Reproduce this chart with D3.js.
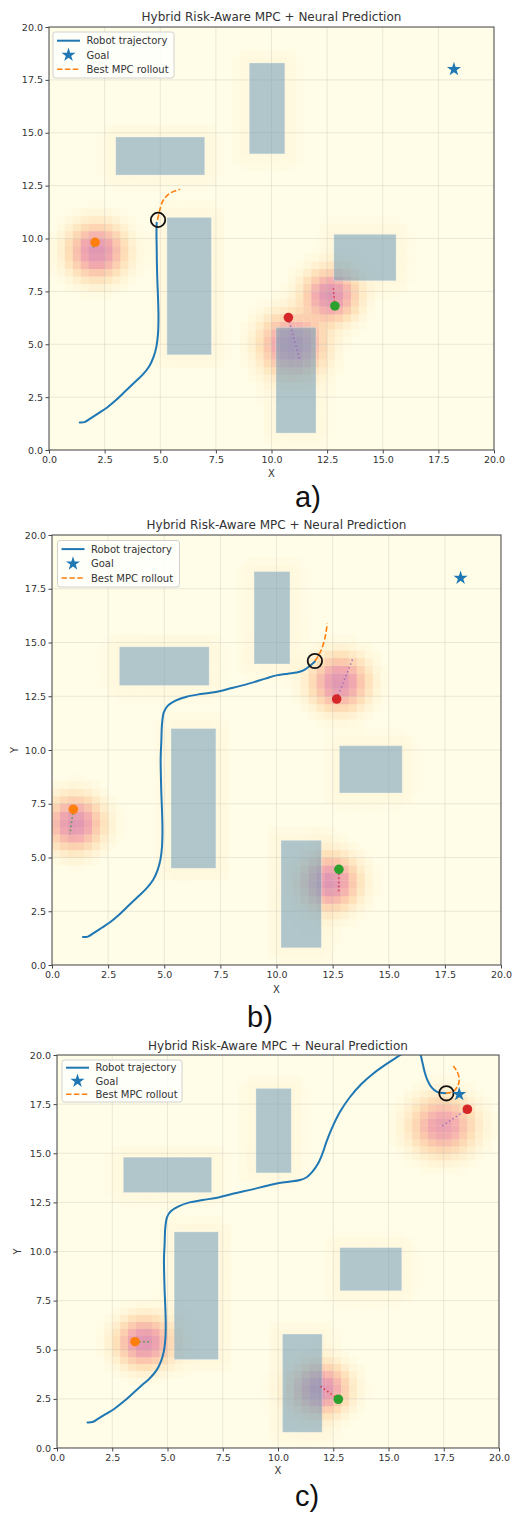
<!DOCTYPE html>
<html>
<head>
<meta charset="utf-8">
<script src="https://cdn.jsdelivr.net/npm/d3@7"></script>
<style>
  body { margin: 0; background: #fff; }
  svg { display: block; }
  text { font-family: "DejaVu Sans", sans-serif; fill: #333; }
</style>
</head>
<body>
<svg id="fig" width="512" height="1513"></svg>
<script>
// ---- data ----
const tickValues = [0, 2.5, 5, 7.5, 10, 12.5, 15, 17.5, 20];
const titleText = "Hybrid Risk-Aware MPC + Neural Prediction";
const legendLabels = ["Robot trajectory", "Goal", "Best MPC rollout"];

// static obstacles: [x0, y0, x1, y1]
const obstacles = [
  [3.0, 13.0, 7.0, 14.8],
  [9.0, 14.0, 10.6, 18.3],
  [5.3, 4.5, 7.3, 11.0],
  [12.8, 8.0, 15.6, 10.2],
  [10.2, 0.8, 12.0, 5.8]
];
const goal = [18.2, 18.0];

// robot path, shared first part and later extensions
const pathStart = [[1.38,1.3],[1.6,1.32],[1.85,1.48],[2.2,1.72],[2.6,2.0],[3.0,2.35],[3.45,2.8],
  [3.85,3.2],[4.2,3.55],[4.5,3.95],[4.7,4.4],[4.83,4.9],[4.9,5.5],[4.92,6.3],[4.9,7.2],[4.87,8.0],
  [4.85,8.8],[4.84,9.6]];
const trajA = pathStart.concat([[4.83,10.2],[4.84,10.75]]);
const trajB = pathStart.concat([[4.87,10.4],[4.9,11.2],[4.98,11.75],[5.15,12.05],[5.5,12.3],[6.0,12.48],
  [6.6,12.6],[7.3,12.7],[8.0,12.88],[8.8,13.1],[9.5,13.32],[10.0,13.47],[10.5,13.55],[10.9,13.6],
  [11.2,13.7],[11.45,13.88],[11.71,14.12]]);
const trajC = pathStart.concat([[4.87,10.4],[4.9,11.2],[4.98,11.75],[5.15,12.05],[5.5,12.3],[6.0,12.5],
  [6.6,12.62],[7.3,12.75],[8.0,12.95],[8.8,13.15],[9.5,13.35],[10.0,13.47],[10.5,13.55],[11.0,13.64],
  [11.3,13.78],[11.55,14.05],[11.8,14.45],[12.0,14.95],[12.2,15.6],[12.45,16.3],[12.8,17.1],
  [13.25,17.85],[13.75,18.5],[14.3,19.05],[14.85,19.5],[15.4,19.9],[15.9,20.25],[16.2,20.35],
  [16.4,20.15],[16.52,19.7],[16.62,19.2],[16.75,18.75],[16.95,18.35],[17.2,18.12],[17.6,18.05]]);

const rolloutA = [[4.88,10.88],[4.98,11.35],[5.14,11.82],[5.44,12.14],[5.89,12.33]];
const rolloutB = [[11.71,14.14],[11.9,14.45],[12.05,14.8],[12.2,15.43],[12.26,15.89]];
const rolloutC = [[17.6,18.05],[17.93,18.14],[18.12,18.4],[18.2,18.73],[18.11,19.15],[17.93,19.44]];

const robotA = [4.9, 10.88];
const robotB = [11.71, 14.14];
const robotC = [17.62, 18.05];

// moving agents: orange, green, red
const agentColors = ["#ff7f0e", "#2ca02c", "#d62728"];
const predColors = ["#2ca02c", "#d62728", "#9467bd"];
const agentsA = [[2.07,9.82],[12.85,6.81],[10.76,6.26]];
const agentsB = [[0.95,7.24],[12.78,4.45],[12.68,12.37]];
const agentsC = [[3.53,5.41],[12.73,2.48],[18.57,17.24]];
const predEndA = [[1.96,9.5],[12.78,7.65],[11.25,4.3]];
const predEndB = [[0.8,6.09],[12.77,3.41],[13.39,14.22]];
const predEndC = [[4.28,5.41],[11.9,3.16],[17.33,16.32]];
// risk blobs: [cx, cy, sigma, peak]
const blobsA = [[2.15,9.4,0.74,1],[12.65,7.3,0.7,1],[10.95,5.0,0.82,0.95]];
const blobsB = [[1.0,6.6,0.72,1],[12.4,3.85,0.72,1],[12.8,13.15,0.72,1]];
const blobsC = [[3.95,5.4,0.72,1],[11.95,3.0,0.72,1],[17.45,16.4,0.85,0.8]];

// ---- layout ----
const panels = [
  {left:49, top:27, w:445, h:423, titleY:21, xlabY:477, ylabX:null, sub:"a)", subX:308, subY:507,
   leg:{x:53, y:32, w:121, h:46, rows:[8.7,23,37.3]},
   traj:trajA, roll:rolloutA, robot:robotA, agents:agentsA, preds:predEndA, blobs:blobsA},
  {left:52, top:535, w:449, h:430, titleY:529, xlabY:993, ylabX:14, sub:"b)", subX:260, subY:1027,
   leg:{x:57.5, y:540.5, w:122, h:46.5, rows:[8.6,23.2,37.5]},
   traj:trajB, roll:rolloutB, robot:robotB, agents:agentsB, preds:predEndB, blobs:blobsB},
  {left:57, top:1055, w:442, h:393, titleY:1050, xlabY:1474, ylabX:17, sub:"c)", subX:307, subY:1506,
   leg:{x:62, y:1060, w:120, h:42, rows:[7.7,21,34.3]},
   traj:trajC, roll:rolloutC, robot:robotC, agents:agentsC, preds:predEndC, blobs:blobsC}
];

const svg = d3.select("#fig");
const nCells = 56;
const cell = 20 / nCells;
const heatColor = d3.scaleLinear()
  .domain([0, 0.06, 0.2, 0.4, 0.65, 1])
  .range(["#fffde7", "#fff4d6", "#fee1b9", "#fbc8ad", "#f3aaae", "#df96b3"])
  .clamp(true);

function rectDist(px, py, o) {
  const dx = Math.max(o[0] - px, 0, px - o[2]);
  const dy = Math.max(o[1] - py, 0, py - o[3]);
  return Math.sqrt(dx * dx + dy * dy);
}

panels.forEach((p, pi) => {
  const x = d3.scaleLinear().domain([0, 20]).range([0, p.w]);
  const y = d3.scaleLinear().domain([0, 20]).range([p.h, 0]);
  const g = svg.append("g").attr("transform", "translate(" + p.left + "," + p.top + ")");

  const clipId = "clip" + pi;
  g.append("clipPath").attr("id", clipId)
    .append("rect").attr("width", p.w).attr("height", p.h);

  const plot = g.append("g").attr("clip-path", "url(#" + clipId + ")");
  plot.append("rect").attr("width", p.w).attr("height", p.h).attr("fill", "#fffde7");

  // risk map cells
  const cells = [];
  for (let i = 0; i < nCells; i++) {
    for (let j = 0; j < nCells; j++) {
      const cx = (i + 0.5) * cell, cy = (j + 0.5) * cell;
      let v = 0;
      p.blobs.forEach(b => {
        const d2 = (cx - b[0]) ** 2 + (cy - b[1]) ** 2;
        v += b[3] * Math.exp(-d2 / (2 * b[2] * b[2]));
      });
      obstacles.forEach(o => {
        const d = rectDist(cx, cy, o);
        v += 0.035 * Math.exp(-d * d / (2 * 0.45 * 0.45));
      });
      if (v > 0.01) cells.push({i, j, v});
    }
  }
  plot.append("g").selectAll("rect").data(cells).enter().append("rect")
    .attr("x", d => x(d.i * cell))
    .attr("y", d => y((d.j + 1) * cell))
    .attr("width", x(cell) - x(0) + 0.3)
    .attr("height", y(0) - y(cell) + 0.3)
    .attr("fill", d => heatColor(d.v));

  // grid
  const grid = plot.append("g").attr("stroke", "#a8a8a0").attr("stroke-opacity", 0.28).attr("stroke-width", 0.9);
  grid.selectAll(".gx").data(tickValues).enter().append("line")
    .attr("x1", d => x(d)).attr("x2", d => x(d)).attr("y1", 0).attr("y2", p.h);
  grid.selectAll(".gy").data(tickValues).enter().append("line")
    .attr("y1", d => y(d)).attr("y2", d => y(d)).attr("x1", 0).attr("x2", p.w);

  // obstacles
  plot.append("g").selectAll("rect").data(obstacles).enter().append("rect")
    .attr("x", d => x(d[0])).attr("y", d => y(d[3]))
    .attr("width", d => x(d[2]) - x(d[0]))
    .attr("height", d => y(d[1]) - y(d[3]))
    .attr("fill", "#6f9db9").attr("fill-opacity", 0.55)
    .attr("stroke", "#ffffff").attr("stroke-opacity", 0.35).attr("stroke-width", 0.8);

  const line = d3.line().x(d => x(d[0])).y(d => y(d[1]));
  const smooth = d3.line().x(d => x(d[0])).y(d => y(d[1])).curve(d3.curveCatmullRom.alpha(0.5));

  // predicted agent paths
  p.agents.forEach((a, k) => {
    plot.append("path").datum([a, p.preds[k]]).attr("d", line)
      .attr("fill", "none").attr("stroke", predColors[k]).attr("stroke-width", 1.5)
      .attr("stroke-dasharray", "1.5,2.6").attr("stroke-opacity", 0.85);
  });

  // robot trajectory
  plot.append("path").datum(p.traj).attr("d", smooth)
    .attr("fill", "none").attr("stroke", "#1f77b4").attr("stroke-width", 2)
    .attr("stroke-linecap", "round");

  // best rollout
  plot.append("path").datum(p.roll).attr("d", smooth)
    .attr("fill", "none").attr("stroke", "#ff7f0e").attr("stroke-width", 1.6)
    .attr("stroke-dasharray", "5.5,2.4");

  // robot
  plot.append("circle").attr("cx", x(p.robot[0])).attr("cy", y(p.robot[1])).attr("r", 7.2)
    .attr("fill", "none").attr("stroke", "#111").attr("stroke-width", 1.8);

  // agents
  plot.append("g").selectAll("circle").data(p.agents).enter().append("circle")
    .attr("cx", d => x(d[0])).attr("cy", d => y(d[1])).attr("r", 4.8)
    .attr("fill", (d, k) => agentColors[k]);

  // goal
  plot.append("path").attr("d", d3.symbol().type(d3.symbolStar).size(62)())
    .attr("transform", "translate(" + x(goal[0]) + "," + y(goal[1]) + ")")
    .attr("fill", "#1f77b4");

  // axes
  const xa = g.append("g").attr("transform", "translate(0," + p.h + ")")
    .call(d3.axisBottom(x).tickValues(tickValues).tickFormat(d3.format(".1f")).tickSize(3.5).tickPadding(2.5));
  const ya = g.append("g")
    .call(d3.axisLeft(y).tickValues(tickValues).tickFormat(d3.format(".1f")).tickSize(3.5).tickPadding(2.5));
  [xa, ya].forEach(a => {
    a.select(".domain").remove();
    a.selectAll("line").attr("stroke", "#444");
    a.selectAll("text").attr("font-size", 9.5).attr("fill", "#333")
      .attr("font-family", "DejaVu Sans, sans-serif");
  });

  g.append("rect").attr("width", p.w).attr("height", p.h)
    .attr("fill", "none").attr("stroke", "#555").attr("stroke-width", 1.1);

  // titles and labels
  svg.append("text").attr("x", p.left + p.w / 2).attr("y", p.titleY)
    .attr("text-anchor", "middle").attr("font-size", 12).text(titleText);
  svg.append("text").attr("x", p.left + p.w / 2).attr("y", p.xlabY)
    .attr("text-anchor", "middle").attr("font-size", 10).text("X");
  if (p.ylabX !== null) {
    svg.append("text")
      .attr("transform", "translate(" + p.ylabX + "," + (p.top + p.h / 2) + ") rotate(-90)")
      .attr("text-anchor", "middle").attr("dy", "0.35em").attr("font-size", 10).text("Y");
  }
  svg.append("text").attr("x", p.subX).attr("y", p.subY)
    .attr("text-anchor", "middle").attr("font-size", 29)
    .style("font-family", "'Liberation Sans', Arial, sans-serif").style("fill", "#111")
    .text(p.sub);

  // legend
  const L = p.leg;
  const leg = svg.append("g").attr("transform", "translate(" + L.x + "," + L.y + ")");
  leg.append("rect").attr("width", L.w).attr("height", L.h).attr("rx", 2.5)
    .attr("fill", "#fff").attr("fill-opacity", 0.8).attr("stroke", "#cccccc").attr("stroke-width", 0.9);
  leg.append("line").attr("x1", 4).attr("x2", 27).attr("y1", L.rows[0]).attr("y2", L.rows[0])
    .attr("stroke", "#1f77b4").attr("stroke-width", 2);
  leg.append("path").attr("d", d3.symbol().type(d3.symbolStar).size(62)())
    .attr("transform", "translate(15.5," + L.rows[1] + ")").attr("fill", "#1f77b4");
  leg.append("line").attr("x1", 4).attr("x2", 27).attr("y1", L.rows[2]).attr("y2", L.rows[2])
    .attr("stroke", "#ff7f0e").attr("stroke-width", 1.6).attr("stroke-dasharray", "5.5,2.4");
  leg.selectAll(".lt").data(legendLabels).enter().append("text")
    .attr("x", 33.5).attr("y", (d, k) => L.rows[k]).attr("dy", "0.35em")
    .attr("font-size", 10).text(d => d);
});
</script>
</body>
</html>
